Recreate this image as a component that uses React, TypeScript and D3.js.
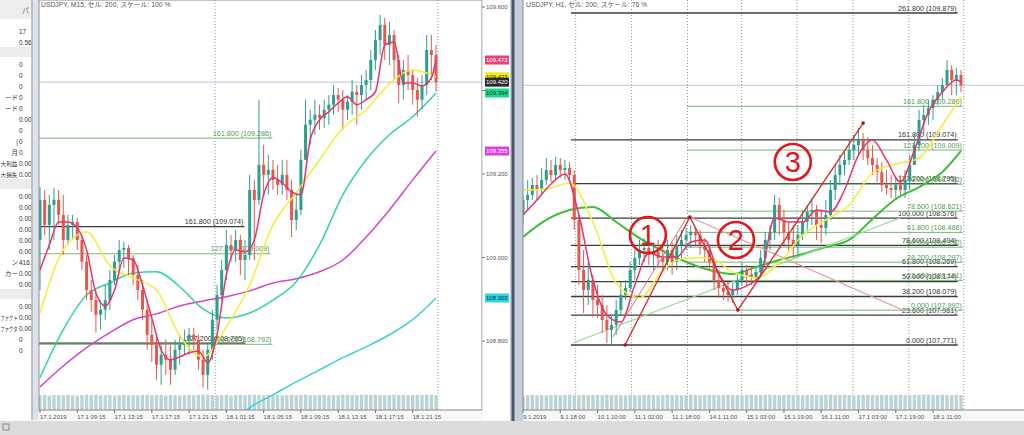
import * as d3 from "d3";

// ---------- left chart: USDJPY M15 (one candle drawn per two M15 bars) ----------
const leftOpen0 = 109.042;
const leftHigh = [
  109.169, 109.162, 109.15, 109.167, 109.162, 109.15, 109.102, 109.102, 109.095, 109.054,
  109.006, 108.946, 108.922, 108.898, 108.934, 108.97, 109.006, 109.042, 109.037, 109.03,
  109.006, 108.982, 108.946, 108.898, 108.851, 108.815, 108.791, 108.803, 108.791, 108.803,
  108.815, 108.827, 108.831, 108.831, 108.815, 108.779, 108.791, 108.875, 108.934, 108.994,
  109.066, 109.054, 109.066, 109.054, 109.042, 109.198, 109.186, 109.378, 109.27, 109.246,
  109.234, 109.222, 109.234, 109.234, 109.186, 109.15, 109.258, 109.378, 109.354, 109.378,
  109.366, 109.378, 109.389, 109.413, 109.406, 109.401, 109.389, 109.425, 109.413, 109.437,
  109.449, 109.497, 109.545, 109.581, 109.574, 109.564, 109.545, 109.485, 109.473, 109.485,
  109.449, 109.43, 109.437, 109.533, 109.533, 109.509,
];
const leftLow = [
  108.922, 109.054, 109.018, 109.042, 109.078, 109.006, 109.03, 109.042, 109.018, 108.97,
  108.898, 108.87, 108.82, 108.827, 108.851, 108.875, 108.934, 108.97, 108.975, 108.958,
  108.934, 108.898, 108.851, 108.779, 108.75, 108.707, 108.695, 108.719, 108.695, 108.719,
  108.743, 108.767, 108.767, 108.779, 108.731, 108.688, 108.683, 108.755, 108.827, 108.898,
  108.946, 108.99, 108.99, 108.958, 108.946, 108.994, 108.994, 109.126, 109.15, 109.15,
  109.162, 109.15, 109.15, 109.138, 109.049, 109.066, 109.102, 109.258, 109.27, 109.294,
  109.306, 109.31, 109.318, 109.342, 109.349, 109.306, 109.33, 109.342, 109.318, 109.354,
  109.378, 109.401, 109.449, 109.485, 109.473, 109.461, 109.425, 109.37, 109.378, 109.401,
  109.366, 109.337, 109.354, 109.389, 109.425, 109.397,
];
const leftClose = [
  109.138, 109.078, 109.126, 109.138, 109.102, 109.042, 109.078, 109.085, 109.042, 108.99,
  108.922, 108.898, 108.863, 108.875, 108.898, 108.946, 108.99, 109.018, 109.023, 108.999,
  108.958, 108.922, 108.875, 108.815, 108.791, 108.743, 108.767, 108.755, 108.731, 108.779,
  108.791, 108.803, 108.815, 108.803, 108.755, 108.719, 108.779, 108.851, 108.91, 108.97,
  109.03, 109.018, 109.042, 108.994, 109.006, 109.162, 109.138, 109.222, 109.198, 109.21,
  109.186, 109.174, 109.198, 109.162, 109.09, 109.114, 109.234, 109.318, 109.33, 109.342,
  109.334, 109.354, 109.366, 109.389, 109.378, 109.354, 109.373, 109.397, 109.389, 109.413,
  109.425, 109.473, 109.521, 109.557, 109.509, 109.533, 109.473, 109.413, 109.449, 109.437,
  109.401, 109.378, 109.413, 109.497, 109.485, 109.42,
];
const leftVolume = [
  92, 95, 90, 94, 93, 91, 95, 92, 90, 94, 96, 93, 95, 91, 92, 94, 90, 93, 95, 92,
  94, 91, 93, 96, 92, 95, 93, 90, 94, 92, 91, 93, 95, 92, 94, 96, 95, 93, 92, 94,
  95, 91, 93, 94, 92, 96, 95, 94, 93, 95, 92, 94, 91, 93, 95, 92, 94, 96, 93, 92,
  95, 94, 91, 93, 92, 95, 94, 92, 93, 95, 96, 94, 95, 93, 92, 94, 95, 93, 94, 92,
  93, 95, 94, 96, 95, 93,
];
// moving averages, read every 2 / 5 candles
const leftPink = [
  108.97, 109.03, 109.085, 109.085, 109.071, 109.018, 108.915, 108.884, 108.922, 108.999,
  108.994, 108.934, 108.855, 108.779, 108.755, 108.762, 108.772, 108.776, 108.748, 108.815,
  108.958, 109.018, 109.013, 109.042, 109.15, 109.191, 109.179, 109.157, 109.15, 109.282,
  109.33, 109.349, 109.37, 109.385, 109.366, 109.378, 109.397, 109.509, 109.516, 109.418,
  109.418, 109.411, 109.43, 109.473,
];
const leftYellow = [
  108.867, 109.018, 109.061, 108.98, 108.951, 108.922, 108.812, 108.762, 108.834, 108.934,
  109.078, 109.155, 109.234, 109.31, 109.354, 109.416, 109.449, 109.433,
];
const leftTeal = [
  108.712, 108.827, 108.91, 108.939, 108.963, 108.966, 108.93, 108.877, 108.855, 108.867,
  108.898, 108.942, 109.03, 109.15, 109.234, 109.294, 109.337, 109.394,
];
const leftMagenta = [
  108.69, 108.74, 108.784, 108.82, 108.851, 108.865, 108.884, 108.896, 108.906, 108.92,
  108.939, 108.949, 108.966, 108.994, 109.049, 109.114, 109.186, 109.255,
];
const leftCyan = [108.587, 108.64, 108.671, 108.702, 108.731, 108.76, 108.786, 108.815, 108.851, 108.903];
const leftTimeLabels = [
  "17.1.2019", "17.1 09:15", "17.1 13:15", "17.1 17:15", "17.1 21:15", "18.1 01:15",
  "18.1 05:15", "18.1 09:15", "18.1 13:15", "18.1 17:15", "18.1 21:15",
];
const leftDayLines = [37.6, 85.4];
const leftPriceTicks = [109.6, 109.4, 109.2, 109.0, 108.8];
const leftTagPrices = [109.473, 109.433, 109.394, 109.255, 108.903, 109.42];
const leftTagKinds = ["pink", "yellow", "teal", "magenta", "cyan", "bid"];
const leftFibLevels = [161.8, 161.8, 127.2, 127.2, 100];
const leftFibPrices = [109.286, 109.074, 109.009, 108.795, 108.792];
const leftFibEnds = [49.9, 43.9, 49.5, 44.1, 49.9];
const leftFibKinds = ["green", "black", "green", "black", "green"];

// ---------- right chart: USDJPY H1 (one candle drawn per two H1 bars) ----------
const rightOpen0 = 108.596;
const rightHigh = [
  108.724, 108.819, 108.831, 108.85, 108.895, 108.958, 108.946, 108.965, 108.958, 108.946,
  108.933, 108.882, 108.596, 108.374, 108.298, 108.216, 108.152, 108.089, 108.025, 107.962,
  108.057, 108.171, 108.184, 108.298, 108.374, 108.438, 108.45, 108.438, 108.406, 108.438,
  108.406, 108.438, 108.425, 108.469, 108.501, 108.514, 108.533, 108.52, 108.501, 108.45,
  108.406, 108.323, 108.247, 108.184, 108.171, 108.165, 108.216, 108.298, 108.279, 108.26,
  108.26, 108.374, 108.488, 108.533, 108.724, 108.705, 108.628, 108.552, 108.533, 108.533,
  108.628, 108.66, 108.705, 108.66, 108.628, 108.692, 108.819, 108.914, 108.977, 109.009,
  109.073, 109.104, 109.149, 109.117, 109.092, 109.041, 108.958, 108.933, 108.882, 108.85,
  108.831, 108.85, 108.882, 108.977, 109.104, 109.263, 109.295, 109.327, 109.358, 109.422,
  109.466, 109.581, 109.549, 109.53, 109.517,
];
const rightLow = [
  108.533, 108.628, 108.692, 108.692, 108.724, 108.787, 108.806, 108.819, 108.831, 108.819,
  108.806, 108.501, 108.152, 107.974, 108.025, 107.949, 107.943, 107.847, 107.784, 107.771,
  107.835, 107.962, 108.057, 108.108, 108.184, 108.279, 108.298, 108.279, 108.247, 108.26,
  108.235, 108.247, 108.216, 108.247, 108.323, 108.374, 108.387, 108.406, 108.343, 108.298,
  108.247, 108.12, 108.07, 108.057, 108.044, 108.038, 108.089, 108.152, 108.152, 108.152,
  108.165, 108.197, 108.298, 108.374, 108.438, 108.469, 108.406, 108.374, 108.323, 108.343,
  108.438, 108.488, 108.533, 108.438, 108.419, 108.469, 108.565, 108.692, 108.787, 108.85,
  108.914, 108.946, 108.977, 108.946, 108.914, 108.85, 108.806, 108.743, 108.724, 108.705,
  108.705, 108.724, 108.705, 108.755, 108.914, 109.009, 109.104, 109.168, 109.2, 109.295,
  109.327, 109.422, 109.358, 109.358, 109.377,
];
const rightClose = [
  108.692, 108.724, 108.787, 108.755, 108.819, 108.882, 108.85, 108.914, 108.882, 108.895,
  108.85, 108.565, 108.247, 108.12, 108.184, 108.057, 108.025, 107.93, 107.867, 107.898,
  107.993, 108.089, 108.133, 108.247, 108.323, 108.374, 108.387, 108.343, 108.362, 108.323,
  108.298, 108.374, 108.298, 108.406, 108.438, 108.469, 108.488, 108.469, 108.406, 108.374,
  108.298, 108.184, 108.133, 108.108, 108.089, 108.12, 108.184, 108.247, 108.216, 108.197,
  108.235, 108.323, 108.438, 108.488, 108.66, 108.565, 108.488, 108.438, 108.406, 108.469,
  108.552, 108.616, 108.628, 108.533, 108.514, 108.596, 108.755, 108.85, 108.914, 108.946,
  109.009, 109.041, 109.073, 109.009, 108.958, 108.914, 108.869, 108.787, 108.768, 108.755,
  108.787, 108.755, 108.819, 108.914, 109.041, 109.2, 109.231, 109.276, 109.327, 109.377,
  109.422, 109.517, 109.454, 109.485, 109.42,
];
const rightVolume = [
  90, 93, 95, 92, 94, 91, 93, 95, 92, 94, 96, 95, 93, 94, 92, 95, 94, 93, 95, 92,
  94, 93, 91, 95, 93, 92, 94, 95, 93, 92, 94, 95, 93, 94, 92, 93, 95, 94, 92, 93,
  95, 94, 92, 93, 95, 94, 93, 92, 94, 95, 93, 94, 96, 95, 93, 92, 94, 95, 93, 94,
  92, 93, 95, 94, 93, 95, 96, 94, 93, 95, 94, 92, 93, 95, 94, 93, 92, 94, 95, 93,
  94, 95, 93, 92, 94, 95, 96, 95, 94, 93, 95, 94, 93, 95, 94,
];
const rightPink = [
  108.596, 108.692, 108.793, 108.857, 108.596, 108.184, 107.962, 107.917, 108.152, 108.355,
  108.33, 108.33, 108.425, 108.438, 108.216, 108.12, 108.146, 108.216, 108.577, 108.552,
  108.552, 108.628, 108.616, 108.755, 108.977, 109.073, 108.946, 108.806, 109.009, 109.25,
  109.377, 109.454, 109.441,
];
const rightYellow = [
  108.755, 108.762, 108.8, 108.552, 108.165, 108.07, 108.247, 108.323, 108.323, 108.235,
  108.197, 108.292, 108.469, 108.565, 108.66, 108.863, 108.92, 108.958, 109.168, 109.346,
];
const rightGreen = [
  108.457, 108.565, 108.628, 108.647, 108.552, 108.45, 108.368, 108.298, 108.247, 108.222,
  108.266, 108.311, 108.349, 108.393, 108.438, 108.571, 108.698, 108.774, 108.869, 109.003,
];
const rightTimeLabels = [
  "9.1.2019", "9.1 18:00", "10.1 10:00", "11.1 02:00", "11.1 18:00", "14.1 11:00",
  "15.1 03:00", "15.1 19:00", "16.1 11:00", "17.1 03:00", "17.1 19:00", "18.1 11:00",
];
const rightDayLines = [11.3, 23.3, 35.3, 46.9, 58.8, 70.8, 82.8, 94.6];
const fibLevels = [0, 23.6, 38.2, 50, 61.8, 78.6, 100, 127.2, 161.8, 261.8];
const blackFibPrices = [107.771, 107.961, 108.079, 108.174, 108.269, 108.404, 108.576, 108.795, 109.074, 109.879];
const greenFibPrices = [107.992, 108.181, 108.297, 108.392, 108.486, 108.621, 108.792, 109.009, 109.286];
const blackFibSpan = [10.3, 93.3];
const greenFibSpan = [35.2, 94.4];
const zigzagIdx = [21.9, 35.8, 46.1, 73.0];
const zigzagPrice = [107.771, 108.584, 107.993, 109.18];
const thinRed = [[19.3, 107.822], [35.2, 108.584]];
const rosyLine = [[35.8, 108.584], [81.5, 107.993]];
const greenTrend = [[10.7, 107.784], [80.9, 108.577]];
const waveLabels = ["1", "2", "3"];
const waveIdx = [26.8, 45.7, 57.9];
const wavePrice = [108.469, 108.438, 108.933];

// ---------- terminal side panel ----------
const sideLabels = [
  "", "", null, "", "", "", "ード", "ード", "", "", "|", "月", "大利益", "大損失", null,
  "", "", "", "", "", "", "ン", "カー", "", null, "", "ファクト", "ファクタ", "", "",
];
const sideValues = [
  "17", "0.56", null, "0", "0", "0", "0", "0", "0.00", "0", "0", "0", "0.00", "0.00", null,
  "0.00", "0.00", "0.00", "0.00", "0.00", "0.00", "416.", "0.00", "0.00", null, "0.00", "0.00", "0.00", "0", "0",
];

const BULL = "#2f9e8e";
const BEAR = "#e3584f";
const FONT = "'Liberation Sans', 'Noto Sans CJK JP', sans-serif";
const TAG: Record<string, [string, string]> = {
  pink: ["#e8407a", "#fff"],
  yellow: ["#f4ee10", "#333"],
  teal: ["#1fd68c", "#143"],
  magenta: ["#e23ce0", "#fff"],
  cyan: ["#2ad6e6", "#134"],
  bid: ["#2a2a2a", "#fff"],
};

type Candle = { i: number; o: number; h: number; l: number; c: number };
const toCandles = (open0: number, hi: number[], lo: number[], cl: number[]): Candle[] =>
  cl.map((c, i) => {
    const o = i === 0 ? open0 : cl[i - 1];
    return { i, o, c, h: Math.max(hi[i], o, c), l: Math.min(lo[i], o, c) };
  });

// values read every `step` candles, the last one sits on the last candle
const sampled = (vals: number[], start: number, step: number, endIdx: number) =>
  vals.map((v, k) => [k === vals.length - 1 ? endIdx : start + k * step, v] as [number, number]);

type Sc = d3.ScaleLinear<number, number>;

function Candles({ data, x, y, w }: { data: Candle[]; x: Sc; y: Sc; w: number }) {
  return (
    <g>
      {data.map((d) => {
        const col = d.c >= d.o ? BULL : BEAR;
        const cx = x(d.i);
        const top = y(Math.max(d.o, d.c));
        return (
          <g key={d.i}>
            <line x1={cx} x2={cx} y1={y(d.h)} y2={y(d.l)} stroke={col} strokeWidth={1} />
            <rect x={cx - w / 2} width={w} y={top} height={Math.max(1, y(Math.min(d.o, d.c)) - top)} fill={col} />
          </g>
        );
      })}
    </g>
  );
}

function Volumes({ vals, x, w }: { vals: number[]; x: Sc; w: number }) {
  const v = d3.scaleLinear().domain([0, 100]).range([410, 394]);
  return (
    <g fill="#bcd3d3">
      {vals.map((d, i) => (
        <rect key={i} x={x(i) - w / 2} width={w} y={v(d)} height={410 - v(d)} />
      ))}
    </g>
  );
}

function MA({ pts, x, y, color, width = 1.5 }: { pts: [number, number][]; x: Sc; y: Sc; color: string; width?: number }) {
  const line = d3
    .line<[number, number]>()
    .x((d) => x(d[0]))
    .y((d) => y(d[1]))
    .curve(d3.curveMonotoneX);
  return <path d={line(pts) || ""} fill="none" stroke={color} strokeWidth={width} strokeLinejoin="round" />;
}

function FibLine({ level, price, x0, x1, y, green }: { level: number; price: number; x0: number; x1: number; y: Sc; green: boolean }) {
  const yy = y(price);
  return (
    <g>
      <line x1={x0} x2={x1} y1={yy} y2={yy} stroke={green ? "#79b679" : "#3c3c3c"} strokeWidth={green ? 1 : 1.3} />
      <text x={x1 - 1} y={yy - 2.5} textAnchor="end" fontSize={7.2} fill={green ? "#4f9a4f" : "#333"} fontFamily={FONT}>
        {`${level.toFixed(3)} (${price.toFixed(3)})`}
      </text>
    </g>
  );
}

function TimeAxis({ labels, x }: { labels: string[]; x: Sc }) {
  return (
    <g fontSize={6} fill="#555" fontFamily={FONT}>
      {labels.map((t, k) => {
        const xx = x(k * 8);
        return (
          <g key={t}>
            <line x1={xx} x2={xx} y1={410} y2={413} stroke="#777" />
            <text x={xx} y={419}>{t}</text>
          </g>
        );
      })}
    </g>
  );
}

function DayLines({ idx, x }: { idx: number[]; x: Sc }) {
  return (
    <g stroke="#9a9a9a" strokeDasharray="1,2">
      {idx.map((d) => (
        <line key={d} x1={x(d)} x2={x(d)} y1={0} y2={410} />
      ))}
    </g>
  );
}

function LeftChart() {
  const x = d3.scaleLinear().domain([0, 85]).range([40, 436]);
  const y = d3.scaleLinear().domain([108.8, 109.6]).range([341, 7]);
  const candles = toCandles(leftOpen0, leftHigh, leftLow, leftClose);
  return (
    <g>
      <rect x={39} y={0} width={443} height={410} fill="#fff" />
      <clipPath id="clipL">
        <rect x={39} y={0} width={443} height={410} />
      </clipPath>
      <g clipPath="url(#clipL)">
        <DayLines idx={leftDayLines} x={x} />
        <Volumes vals={leftVolume} x={x} w={3.4} />
        <line x1={39} x2={482} y1={y(109.42)} y2={y(109.42)} stroke="#b4c6e0" />
        {leftFibPrices.map((p, i) => (
          <FibLine key={i} level={leftFibLevels[i]} price={p} x0={39} x1={x(leftFibEnds[i])} y={y} green={leftFibKinds[i] === "green"} />
        ))}
        <MA pts={sampled(leftCyan, 40, 5, 85)} x={x} y={y} color="#3ccfd8" />
        <MA pts={sampled(leftMagenta, 0, 5, 85)} x={x} y={y} color="#d046d0" />
        <MA pts={sampled(leftTeal, 0, 5, 85)} x={x} y={y} color="#35d3a0" />
        <Candles data={candles} x={x} y={y} w={3} />
        <MA pts={sampled(leftYellow, 0, 5, 85)} x={x} y={y} color="#f2ee3a" />
        <MA pts={sampled(leftPink, 0, 2, 85)} x={x} y={y} color="#e8336c" />
      </g>
      <rect x={39} y={0} width={443} height={410} fill="none" stroke="#8a8a8a" />
      <text x={41} y={7} fontSize={6.8} fill="#555" fontFamily={FONT}>USDJPY, M15, セル: 200, スケール: 100 %</text>
      <rect x={482.5} y={0} width={27} height={420} fill="#fff" />
      <g fontSize={6} fill="#555" fontFamily={FONT}>
        {leftPriceTicks.map((p) => (
          <g key={p}>
            <line x1={482} x2={485} y1={y(p)} y2={y(p)} stroke="#777" />
            <text x={486} y={y(p) + 2}>{p.toFixed(3)}</text>
          </g>
        ))}
      </g>
      {leftTagPrices.map((p, i) => {
        const [bg, fg] = TAG[leftTagKinds[i]];
        return (
          <g key={i}>
            <rect x={485} y={y(p) - 4.5} width={24} height={9} fill={bg} />
            <text x={486} y={y(p) + 2} fontSize={6} fill={fg} fontFamily={FONT}>{p.toFixed(3)}</text>
          </g>
        );
      })}
      <TimeAxis labels={leftTimeLabels} x={x} />
    </g>
  );
}

function RightChart() {
  const x = d3.scaleLinear().domain([0, 94]).range([523, 961]);
  const y = d3.scaleLinear().domain([107.771, 109.879]).range([345, 13]);
  const candles = toCandles(rightOpen0, rightHigh, rightLow, rightClose);
  const zig = zigzagIdx.map((d, i) => [x(d), y(zigzagPrice[i])] as [number, number]);
  const seg = (s: number[][]) => ({ x1: x(s[0][0]), y1: y(s[0][1]), x2: x(s[1][0]), y2: y(s[1][1]) });
  return (
    <g>
      <rect x={523} y={0} width={501} height={410} fill="#fff" />
      <clipPath id="clipR">
        <rect x={523} y={0} width={501} height={410} />
      </clipPath>
      <g clipPath="url(#clipR)">
        <DayLines idx={rightDayLines} x={x} />
        <Volumes vals={rightVolume} x={x} w={3.4} />
        <line x1={523} x2={1024} y1={y(109.42)} y2={y(109.42)} stroke="#b4c6e0" />
        {blackFibPrices.map((p, i) => (
          <FibLine key={"k" + i} level={fibLevels[i]} price={p} x0={x(blackFibSpan[0])} x1={x(blackFibSpan[1])} y={y} green={false} />
        ))}
        {greenFibPrices.map((p, i) => (
          <FibLine key={"g" + i} level={fibLevels[i]} price={p} x0={x(greenFibSpan[0])} x1={x(greenFibSpan[1])} y={y} green />
        ))}
        <MA pts={sampled(rightGreen, 0, 5, 94)} x={x} y={y} color="#3dbd3a" width={2} />
        <line {...seg(greenTrend)} stroke="#9ad89a" strokeWidth={1.2} />
        <Candles data={candles} x={x} y={y} w={3} />
        <MA pts={sampled(rightYellow, 0, 5, 94)} x={x} y={y} color="#f2ee3a" />
        <MA pts={sampled(rightPink, 0, 3, 94)} x={x} y={y} color="#e8336c" />
        <line {...seg(rosyLine)} stroke="#e29a9a" strokeWidth={1.2} />
        <line {...seg(thinRed)} stroke="#e07070" strokeWidth={1} />
        <path d={d3.line()(zig) || ""} fill="none" stroke="#d8302c" strokeWidth={1.4} />
        {zig.map((p, i) => (
          <circle key={i} cx={p[0]} cy={p[1]} r={1.8} fill="#a01818" />
        ))}
        {waveLabels.map((t, i) => (
          <g key={t}>
            <circle cx={x(waveIdx[i])} cy={y(wavePrice[i])} r={18} fill="none" stroke="#e3161b" strokeWidth={2.6} />
            <text x={x(waveIdx[i])} y={y(wavePrice[i]) + 10} textAnchor="middle" fontSize={29} fill="#e3161b" fontFamily={FONT}>{t}</text>
          </g>
        ))}
      </g>
      <line x1={523} x2={1024} y1={410} y2={410} stroke="#8a8a8a" />
      <line x1={523} x2={523} y1={0} y2={410} stroke="#8a8a8a" />
      <text x={526} y={7} fontSize={6.8} fill="#555" fontFamily={FONT}>USDJPY, H1, セル: 200, スケール: 76 %</text>
      <TimeAxis labels={rightTimeLabels} x={x} />
    </g>
  );
}

function SidePanel() {
  return (
    <g fontFamily={FONT} fontSize={7} fill="#333">
      <rect x={0} y={0} width={32} height={420} fill="#fff" />
      <rect x={0} y={0} width={32} height={19} fill="#eeeeee" />
      <text x={22} y={13} fill="#666">パ</text>
      {sideValues.map((v, i) => {
        const yy = 31 + i * 11;
        if (v === null) return <rect key={i} x={0} y={yy - 6} width={32} height={10} fill="#ececec" />;
        const lab = sideLabels[i] || "";
        const long = lab.length > 2;
        return (
          <g key={i}>
            {long ? (
              <text x={0.5} y={yy + 2.5} fontSize={6} textLength={17} lengthAdjust="spacingAndGlyphs">{lab}</text>
            ) : (
              <text x={18} y={yy + 2.5} fontSize={6.5} textAnchor="end">{lab}</text>
            )}
            <text x={19} y={yy + 2.5} fontSize={6.5}>{v}</text>
          </g>
        );
      })}
      <rect x={31.5} y={0} width={7} height={420} fill="#dde2ea" />
      <line x1={32} x2={32} y1={0} y2={420} stroke="#9a9a9a" />
    </g>
  );
}

export default function App() {
  return (
    <div style={{ position: "absolute", left: 0, top: 0 }}>
      <svg width={1024} height={435} style={{ display: "block" }}>
        <rect width={1024} height={435} fill="#f7f7f7" />
        <SidePanel />
        <LeftChart />
        <rect x={510} y={0} width={13} height={435} fill="#c5cfdc" />
        <rect x={511.5} y={0} width={3} height={435} fill="#4e5866" />
        <RightChart />
        <rect x={0} y={421} width={1024} height={14} fill="#dcdcdc" />
        <rect x={3} y={424} width={6} height={6} fill="none" stroke="#888" />
      </svg>
    </div>
  );
}
